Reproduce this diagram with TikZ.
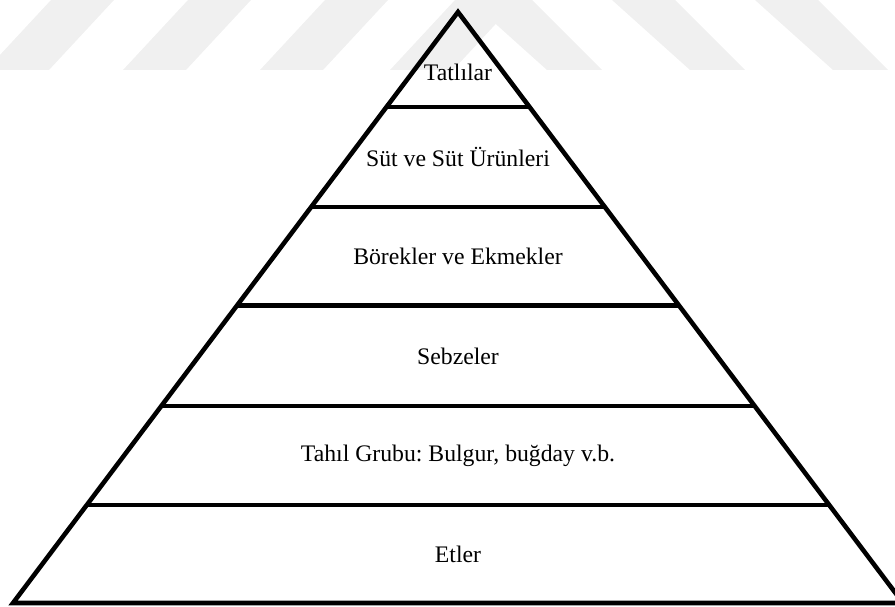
\documentclass[tikz,border=0pt]{standalone}
\usepackage{fontspec}
\setmainfont{Liberation Serif}
\usetikzlibrary{calc}
\frenchspacing

\begin{document}
\begin{tikzpicture}[
		line join=miter,
		pyr/.style={line width=2.6pt},
		tlabel/.style={font=\fontsize{13.5}{16}\selectfont, inner sep=0pt},
		wmark/.style={fill=black!6, draw=none},
	]
	\useasboundingbox (0,0) rectangle (17.9,12.12);

	\foreach \x in {-0.28, 2.46, 5.2, 7.8} {
		\fill[wmark] (\x, 10.72) -- ++(1.26,0) -- ++(1.3,1.4) -- ++(-1.26,0) -- cycle;
	}
	\foreach \x in {10.94, 13.8, 16.66} {
		\fill[wmark] (\x, 10.72) -- ++(1.1,0) -- ++(-1.4,1.4) -- ++(-1.26,0) -- cycle;
	}

	\coordinate (top) at (9.16, 11.88);
	\coordinate (bl) at (0.26, 0.06);
	\coordinate (br) at (18.06, 0.06);

	\draw[pyr] (top) -- (bl) -- (br) -- cycle;
	\foreach \t [count=\i] in {0.161, 0.330, 0.497, 0.667, 0.834} {
		\coordinate (l\i) at ($(top)!\t!(bl)$);
		\coordinate (r\i) at ($(top)!\t!(br)$);
		\draw[pyr] (l\i) -- (r\i);
	}

	\node[tlabel] (tatli) at (9.16, 10.68) {Tatlılar};
	\node[tlabel] (sut) at (9.16, 8.98) {Süt ve Süt Ürünleri};
	\node[tlabel] (borek) at (9.16, 7.0) {Börekler ve Ekmekler};
	\node[tlabel] (sebze) at (9.16, 5.0) {Sebzeler};
	\node[tlabel] (tahil) at (9.16, 3.0) {Tahıl Grubu: Bulgur, buğday v.b.};
	\node[tlabel] (et) at (9.16, 1.04) {Etler};
\end{tikzpicture}
\end{document}
